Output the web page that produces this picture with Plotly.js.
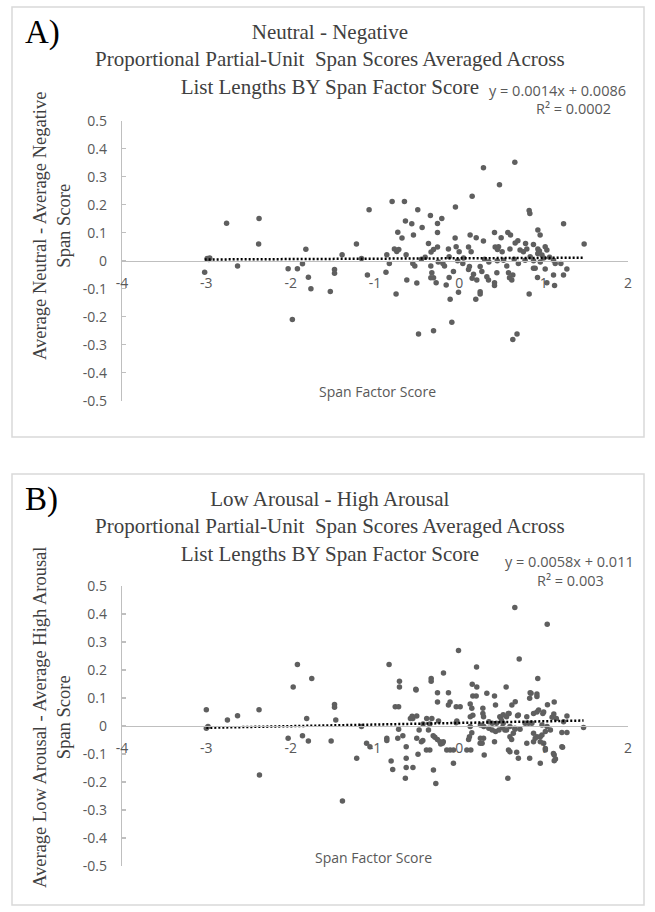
<!DOCTYPE html>
<html>
<head>
<meta charset="utf-8">
<script src="https://cdn.plot.ly/plotly-3.0.1.min.js"></script>
<style>html,body{margin:0;padding:0;background:#fff;}#chart{width:655px;height:912px;}</style>
</head>
<body>
<div id="chart"></div>
<script>
// ---------- DATA ----------
const xTickVals = [-4, -3, -2, -1, 0, 1, 2];
const xTickText = ["-4", "-3", "-2", "-1", "0", "1", "2"];
const yTickVals = [0.5, 0.4, 0.3, 0.2, 0.1, 0, -0.1, -0.2, -0.3, -0.4, -0.5];
const yTickText = ["0.5", "0.4", "0.3", "0.2", "0.1", "0", "-0.1", "-0.2", "-0.3", "-0.4", "-0.5"];

const titleA = "Neutral - Negative<br>Proportional Partial-Unit\u00a0 Span Scores Averaged Across<br>List Lengths BY Span Factor Score";
const titleB = "Low Arousal - High Arousal<br>Proportional Partial-Unit\u00a0 Span Scores Averaged Across<br>List Lengths BY Span Factor Score";
const yTitleA = "Average Neutral - Average Negative<br>Span Score";
const yTitleB = "Average Low Arousal - Average High Arousal<br>Span Score";
const xTitle = "Span Factor Score";

const aSlope = 0.0014, aIntercept = 0.0086, aR2 = "0.0002";
const bSlope = 0.0058, bIntercept = 0.011, bR2 = "0.003";

// Panel A: Neutral - Negative
const aX = [-3.02,-2.99,-2.96,-2.97,-2.76,-2.63,-2.375,-2.38,-2.03,-1.98,-1.92,-1.86,-1.82,-1.79,-1.76,-1.53,-1.48,-1.48,-1.39,-1.22,-1.16,-1.07,-1.09,-0.87,-0.86,-0.83,
 0.286,0.658,0.476,0.152,-0.797,-0.651,-0.493,-0.046,-0.343,-0.208,-0.259,-0.639,-0.564,-0.441,0.828,0.836,-0.73,-0.68,-0.544,-0.259,-0.05,0.128,0.2,0.286,0.417,0.496,0.575,0.607,0.694,0.662,0.931,
 -0.366,-0.306,-0.259,-0.335,-0.129,-0.038,-0.002,0.109,0.14,0.425,0.465,0.508,0.452,0.6,0.785,0.8,0.879,-0.77,-0.742,-0.718,-0.631,-0.552,-0.528,-0.405,-0.195,-0.176,-0.121,
 -0.338,-0.326,-0.338,-0.306,-0.275,-0.623,-0.504,-0.75,-0.156,-0.121,-0.07,-0.01,-0.109,0.041,0.12,0.109,0.168,0.207,0.152,0.247,0.267,0.326,0.346,0.247,0.247,0.195,0.417,0.417,0.445,
 0.563,0.583,0.595,0.634,0.622,0.828,0.879,0.899,-0.089,-0.484,-0.306,0.634,0.684,
 1.236,0.958,1.48,0.931,0.94,0.95,0.93,1.018,1.038,1.07,1.117,1.137,1.204,1.018,1.117,1.235,1.275,0.927,1.038,1.129,0.78,0.84,0.524,
 0.72,0.76,0.70,0.98,1.0,0.88,0.96,-0.45,-0.02,0.3,0.35,0.05,-0.25,0.65,0.45];
const aY = [-0.041,0.008,0.01,0.004,0.134,-0.019,0.151,0.06,-0.029,-0.21,-0.029,-0.011,0.041,-0.059,-0.10,-0.11,-0.031,-0.045,0.021,0.06,0.008,0.182,-0.051,-0.041,0.021,-0.01,
 0.332,0.352,0.271,0.23,0.211,0.211,0.182,0.192,0.161,0.151,0.133,0.142,0.132,0.119,0.179,0.169,0.102,0.081,0.092,0.101,0.081,0.092,0.082,0.07,0.101,0.082,0.101,0.092,0.071,0.063,0.11,
 0.061,0.04,0.049,0.031,0.042,0.05,0.032,0.049,0.032,0.049,0.05,0.032,0.04,0.042,0.061,0.042,0.058,0.042,0.033,0.04,0.021,-0.01,-0.019,0.012,-0.01,-0.019,0.014,
 -0.019,-0.043,-0.061,-0.061,-0.079,-0.069,-0.08,-0.119,-0.087,-0.06,-0.039,-0.113,-0.138,-0.01,-0.021,-0.031,-0.048,-0.069,-0.063,-0.021,-0.039,-0.057,-0.069,-0.111,-0.119,-0.138,-0.079,-0.089,-0.043,
 -0.019,-0.043,-0.061,-0.051,-0.069,-0.119,-0.027,-0.027,-0.22,-0.262,-0.25,-0.281,-0.262,
 0.132,0.092,0.06,0.042,0.03,0.035,0.025,0.05,0.038,0.012,0.002,-0.01,-0.01,-0.03,-0.051,-0.051,-0.03,-0.06,-0.079,-0.089,0.002,0.014,0.002,
 0.038,0.032,-0.01,0.02,0.01,0.0,-0.005,0.005,0.0,0.005,-0.005,0.01,-0.005,0.005,0.0];

// Panel B: Low Arousal - High Arousal
const bX = [-3.0,-2.98,-3.0,-2.75,-2.63,-2.375,-2.37,-2.03,-1.97,-1.92,-1.86,-1.81,-1.79,-1.75,-1.52,-1.48,-1.48,-1.465,-1.386,-1.217,-1.16,-1.10,-1.06,-0.86,-0.86,-0.833,-0.809,-0.79,-0.76,-0.72,-0.72,-0.73,-0.67,-0.63,-0.63,-0.63,-0.64,-0.58,
 -0.513,-0.259,-0.129,-0.259,-0.11,-0.129,-0.037,0.01,0.129,0.148,0.16,0.2,0.326,0.417,0.429,0.279,0.279,0.16,0.663,0.623,0.834,0.84,0.92,0.92,1.045,1.125,-0.552,-0.505,
 -0.55,-0.49,-0.505,-0.433,-0.477,-0.387,-0.326,-0.366,-0.31,-0.29,-0.26,-0.39,-0.35,-0.19,-0.22,-0.307,-0.279,-0.149,-0.109,-0.07,-0.07,0.089,0.136,-0.038,0.129,0.148,0.12,0.11,0.247,0.287,0.295,
 0.25,0.29,0.35,0.39,0.43,0.47,0.51,0.54,0.35,0.39,0.44,0.48,0.56,0.58,0.417,0.6,0.62,0.64,0.583,0.6,0.68,0.7,0.575,0.66,0.72,0.70,0.8,0.88,0.94,0.8,0.834,
 0.88,0.92,0.96,0.98,1.02,0.90,0.96,1.0,1.02,1.04,1.08,1.12,1.125,1.125,1.15,1.216,1.276,1.224,1.236,1.276,1.473,
 0.658,-0.01,0.71,0.204,-0.188,-0.334,-0.334,-0.71,-0.71,-0.516,0.153,0.207,0.555,-0.56,-0.247,-0.43,-0.35,-0.03,0.13,0.287,0.49,0.5,0.52,0.59,0.69,0.92,-0.45,-0.23,-0.2,0.25,0.27,
 1.042,0.93,0.85,0.99,1.0,1.1,0.52,0.56,0.6,0.66,0.78,0.82,0.86,0.98,0.88,0.96,1.02,1.216,1.116,1.14];
const bY = [0.058,-0.002,-0.008,0.021,0.037,0.058,-0.175,-0.044,0.139,0.22,-0.035,0.027,-0.054,0.17,-0.054,0.077,0.067,0.021,-0.268,-0.115,-0.002,-0.062,-0.074,-0.044,-0.052,0.22,-0.125,-0.155,0.069,0.069,-0.012,-0.044,-0.035,-0.074,-0.115,-0.148,-0.187,0.027,
 0.129,0.119,0.119,0.086,0.086,0.075,0.069,0.069,0.079,0.063,0.107,0.107,0.117,0.107,0.075,0.063,0.045,0.038,0.087,0.075,0.099,0.119,0.105,0.114,0.076,0.086,0.027,0.036,
 -0.148,-0.101,-0.044,-0.052,-0.014,0.027,0.027,-0.014,-0.035,-0.04,-0.048,-0.086,-0.086,-0.056,-0.064,-0.157,-0.205,-0.086,-0.086,-0.086,-0.133,-0.086,-0.086,0.012,-0.002,-0.024,-0.038,-0.048,-0.062,-0.044,-0.104,
 0.004,-0.002,-0.008,-0.014,-0.02,-0.014,-0.005,-0.014,0.015,0.01,0.01,0.033,0.033,0.045,-0.056,-0.038,-0.048,-0.026,-0.086,-0.092,-0.094,-0.115,-0.187,-0.012,-0.012,0.039,0.033,0.045,0.057,-0.062,-0.115,
 -0.026,-0.038,-0.038,-0.032,-0.02,-0.044,-0.133,-0.062,-0.086,-0.002,-0.014,0.043,-0.104,-0.124,0.027,-0.023,-0.023,-0.076,0.015,0.036,-0.005,
 0.423,0.27,0.239,0.211,0.189,0.17,0.16,0.16,0.139,0.131,0.149,0.139,0.139,0.035,0.018,0.007,0.007,0.018,0.033,0.033,0.03,0.02,0.04,0.045,0.037,0.05,-0.056,-0.056,-0.062,-0.044,-0.062,
 0.363,0.17,0.117,0.045,0.05,0.031,0.01,-0.014,-0.002,-0.008,0.01,0.01,0.01,0.004,-0.056,-0.056,-0.08,-0.074,-0.098,-0.118];

// ---------- LAYOUT HELPERS (pixel -> paper) ----------
const W = 655, H = 912;
const px = v => v / W;
const py = v => 1 - v / H;

const dotColor = '#5f5f5f';
const axisGray = '#bfbfbf';
const textGray = '#595959';
const serifGray = '#404040';
const sansFont = 'Open Sans, Liberation Sans, sans-serif';
const serifFont = 'Liberation Serif, Times New Roman, serif';

function trend(xs, slope, intercept) {
  const lo = Math.min(...xs), hi = Math.max(...xs);
  return { x: [lo, hi], y: [slope * lo + intercept, slope * hi + intercept] };
}
const tA = trend(aX, aSlope, aIntercept);
const tB = trend(bX, bSlope, bIntercept);

const traces = [
  { type: 'scatter', mode: 'markers', x: aX, y: aY, xaxis: 'x', yaxis: 'y',
    marker: { color: dotColor, size: 5.5 }, hoverinfo: 'skip' },
  { type: 'scatter', mode: 'lines', x: tA.x, y: tA.y, xaxis: 'x', yaxis: 'y',
    line: { color: '#000', width: 2.5, dash: '2px,2px' }, hoverinfo: 'skip' },
  { type: 'scatter', mode: 'markers', x: bX, y: bY, xaxis: 'x2', yaxis: 'y2',
    marker: { color: dotColor, size: 5.5 }, hoverinfo: 'skip' },
  { type: 'scatter', mode: 'lines', x: tB.x, y: tB.y, xaxis: 'x2', yaxis: 'y2',
    line: { color: '#000', width: 2.5, dash: '2px,2px' }, hoverinfo: 'skip' }
];

function xAxis(posPx) {
  return {
    domain: [px(122), px(628)], range: [-4, 2], anchor: 'free', position: py(posPx),
    showline: true, linecolor: axisGray, linewidth: 1.3, zeroline: false, showgrid: false,
    tickmode: 'array', tickvals: xTickVals, ticktext: xTickText, ticks: '',
    ticklabelstandoff: 9, tickfont: { family: sansFont, size: 14, color: textGray }
  };
}
function yAxis(topPx, botPx, anchor) {
  return {
    domain: [py(botPx), py(topPx)], range: [-0.5, 0.5], anchor: anchor,
    showline: true, linecolor: axisGray, linewidth: 1.3, zeroline: false, showgrid: false,
    tickmode: 'array', tickvals: yTickVals, ticktext: yTickText,
    ticks: 'inside', ticklen: 4, tickcolor: axisGray, tickwidth: 1.3,
    ticklabelstandoff: 11, tickfont: { family: sansFont, size: 14, color: textGray }
  };
}

function ann(text, xPx, yPx, opts) {
  return Object.assign({ text: text, xref: 'paper', yref: 'paper', x: px(xPx), y: py(yPx),
    showarrow: false, xanchor: 'center', yanchor: 'middle' }, opts);
}

const annotations = [
  // Panel A
  ann('A)', 23, 32, { xanchor: 'left', font: { family: serifFont, size: 33, color: '#000' } }),
  ann(titleA, 330, 59, { font: { family: serifFont, size: 21, color: serifGray } }),
  ann('y = ' + aSlope + 'x + ' + aIntercept, 557, 91, { font: { family: sansFont, size: 14.5, color: textGray } }),
  ann('R\u00b2 = ' + aR2, 573, 109, { font: { family: sansFont, size: 14.5, color: textGray } }),
  ann(yTitleA, 52, 226, { textangle: -90, font: { family: serifFont, size: 18.5, color: serifGray } }),
  ann(xTitle, 377, 391, { font: { family: sansFont, size: 14, color: textGray } }),
  // Panel B
  ann('B)', 23, 499, { xanchor: 'left', font: { family: serifFont, size: 33, color: '#000' } }),
  ann(titleB, 330, 526, { font: { family: serifFont, size: 21, color: serifGray } }),
  ann('y = ' + bSlope + 'x + ' + bIntercept, 569, 561, { font: { family: sansFont, size: 14.5, color: textGray } }),
  ann('R\u00b2 = ' + bR2, 570, 580, { font: { family: sansFont, size: 14.5, color: textGray } }),
  ann(yTitleB, 52, 718, { textangle: -90, font: { family: serifFont, size: 18.5, color: serifGray } }),
  ann(xTitle, 373, 857, { font: { family: sansFont, size: 14, color: textGray } })
];

const shapes = [
  { type: 'rect', xref: 'paper', yref: 'paper', x0: px(12), x1: px(644), y0: py(437), y1: py(7),
    line: { color: '#d9d9d9', width: 1.5 }, fillcolor: 'rgba(0,0,0,0)' },
  { type: 'rect', xref: 'paper', yref: 'paper', x0: px(12), x1: px(644), y0: py(905), y1: py(474),
    line: { color: '#d9d9d9', width: 1.5 }, fillcolor: 'rgba(0,0,0,0)' }
];

const layout = {
  width: W, height: H, margin: { l: 0, r: 0, t: 0, b: 0 },
  paper_bgcolor: '#fff', plot_bgcolor: 'rgba(0,0,0,0)', showlegend: false,
  xaxis: xAxis(260.7), yaxis: yAxis(120.7, 400.7, 'x'),
  xaxis2: xAxis(726), yaxis2: yAxis(586, 866, 'x2'),
  annotations: annotations, shapes: shapes
};

Plotly.newPlot('chart', traces, layout, { displayModeBar: false, staticPlot: true });
</script>
</body>
</html>
